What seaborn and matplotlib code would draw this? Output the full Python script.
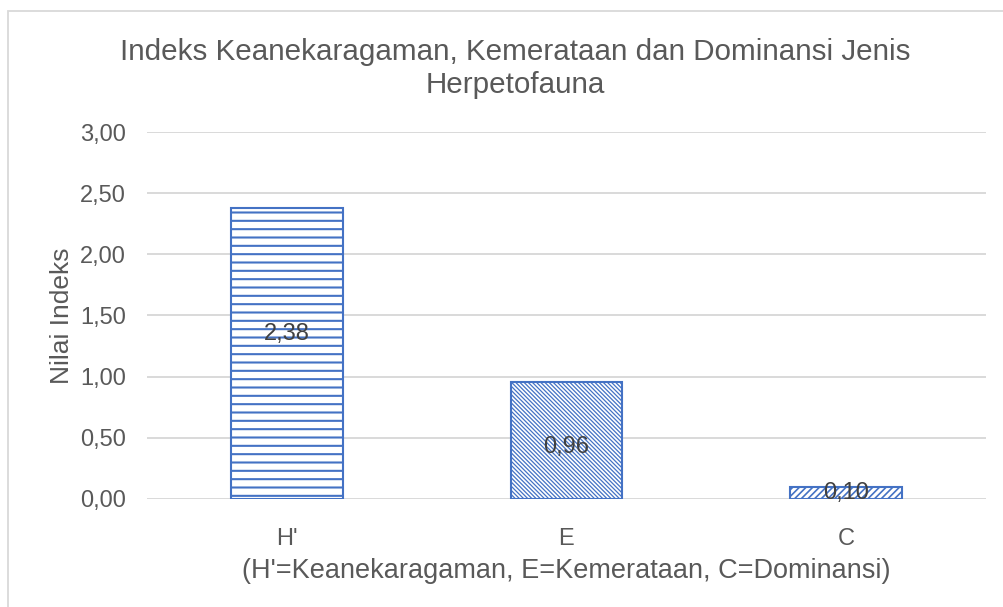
import numpy as np
import matplotlib
matplotlib.use('Agg')
import matplotlib.pyplot as plt
import seaborn as sns
import pandas as pd
from matplotlib.patches import Rectangle

categories = ["H'", "E", "C"]
values = [2.38, 0.96, 0.10]
hatches = ['--', '\\' * 8, '/' * 5]
hatch_lw = [1.5, 0.9, 1.2]
label_dy = [14, -5, 0]  # points, nudge of the value labels
yticks = [0.0, 0.5, 1.0, 1.5, 2.0, 2.5, 3.0]

title = 'Indeks Keanekaragaman, Kemerataan dan Dominansi Jenis\nHerpetofauna'
xlabel = "(H'=Keanekaragaman, E=Kemerataan, C=Dominansi)"
ylabel = 'Nilai Indeks'

sns.set_style('white')
plt.rcParams['font.family'] = ['Liberation Sans', 'DejaVu Sans']
plt.rcParams['hatch.linewidth'] = 1.2
plt.rcParams['hatch.color'] = '#4472C4'

blue = '#4472C4'
txt = '#595959'

df = pd.DataFrame({'kat': categories, 'nilai': values})

fig = plt.figure(figsize=(10.04, 6.07), dpi=100)
ax = fig.add_axes([0.1464, 0.178, 0.8356, 0.6045])

sns.barplot(data=df, x='kat', y='nilai', ax=ax, width=0.4,
            color='white', edgecolor=blue, linewidth=1.5, saturation=1)
for p, h, lw in zip(ax.patches, hatches, hatch_lw):
    p.set_hatch(h)
    p.set_facecolor('white')
    p.set_edgecolor(blue)
    if hasattr(p, 'set_hatch_linewidth'):
        p.set_hatch_linewidth(lw)

# value labels in the middle of each bar
for p, v, dy in zip(ax.patches, values, label_dy):
    lab = ('%.2f' % v).replace('.', ',')
    ax.annotate(lab, (p.get_x() + p.get_width() / 2, v / 2),
                xytext=(0, dy), textcoords='offset points',
                ha='center', va='center', fontsize=17, color='#404040')

ax.set_ylim(0, 3.0)
ax.set_yticks(yticks)
ax.set_yticklabels([('%.2f' % t).replace('.', ',') for t in yticks])
ax.yaxis.grid(True, color='#D9D9D9', linewidth=1.4)
ax.set_axisbelow(True)
for s in ax.spines.values():
    s.set_visible(False)
ax.tick_params(axis='both', length=0, labelsize=17, colors=txt)
ax.tick_params(axis='y', pad=15)
ax.tick_params(axis='x', pad=21)

ax.set_xlabel(xlabel, fontsize=19.5, color=txt, labelpad=6)
ax.set_ylabel(ylabel, fontsize=19, color=txt, labelpad=4.5)

fig.text(0.513, 1 - 68.5 / 607, title, fontsize=21.3, color=txt,
         ha='center', va='center', linespacing=1.2)

fig.patches.append(Rectangle((8 / 1004, -0.1), 1.2, 1 - 11 / 607 + 0.1,
                             transform=fig.transFigure, fill=False,
                             edgecolor='#D9D9D9', linewidth=1.3))

fig.savefig('out.png', dpi=100)
